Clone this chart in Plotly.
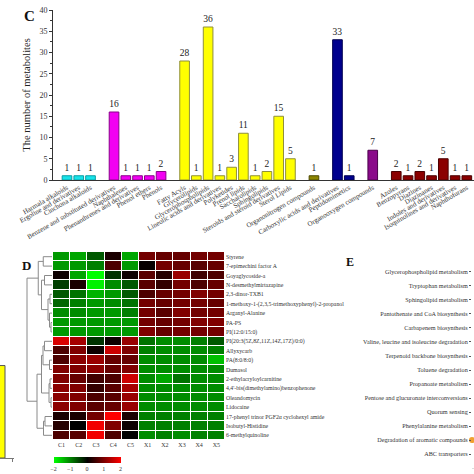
import plotly.graph_objects as go

W = H = 474
FONT = "Liberation Serif"

# ---------------- Panel C data ----------------
cyan_labels = ["Harmala alkaloids", "Ergoline and derivatives", "Cinchona alkaloids"]
cyan_values = [1, 1, 1]
magenta_labels = ["Benzene and substituted derivatives", "Naphthalenes",
                  "Phenanthrenes and derivatives", "Phenol ethers", "Phenols"]
magenta_values = [16, 1, 1, 1, 2]
yellow_labels = ["Fatty Acyls", "Glycerolipids", "Glycerophospholipids",
                 "Lineolic acids and derivatives", "Polyketides", "Prenol lipids",
                 "Saccharolipids", "Sphingolipids", "Steroids and steroid derivatives",
                 "Sterol Lipids"]
yellow_values = [28, 1, 36, 1, 3, 11, 1, 2, 15, 5]
olive_labels = ["Organonitrogen compounds"]
olive_values = [1]
navy_labels = ["Carboxylic acids and derivatives", "Peptidomimetics"]
navy_values = [33, 1]
purple_labels = ["Organooxygen compounds"]
purple_values = [7]
darkred_labels = ["Azoles", "Benzopyrans", "Diazines", "Diazinanes",
                  "Indoles and derivatives", "Isoquinolines and derivatives",
                  "Naphthofurans"]
darkred_values = [2, 1, 2, 1, 5, 1, 1]

groups = [
    (cyan_labels, cyan_values, "#16e3ea", "#0a9ea3"),
    (magenta_labels, magenta_values, "#f200f2", "#8a008a"),
    (yellow_labels, yellow_values, "#ffff00", "#8f8f3a"),
    (olive_labels, olive_values, "#8c8500", "#4d4a00"),
    (navy_labels, navy_values, "#00008e", "#000050"),
    (purple_labels, purple_values, "#8a0a8a", "#4a004a"),
    (darkred_labels, darkred_values, "#8b0000", "#4a0000"),
]

# ---------------- Panel D data ----------------
heat_rows = ["Styrene", "7-epimechini factor A", "Goyaglycoside-a", "N-desmethylmirtazapine",
             "2,3-dinor-TXB1", "1-methoxy-1-(2,3,5-trimethoxyphenyl)-2-propanol",
             "Arganyl-Alanine", "PA-PS", "PI(12:0/15:0)",
             "PI(20:3(5Z,8Z,11Z,14Z,17Z)/0:0)", "Allyxycarb", "PA(8:0/8:0)", "Dumasol",
             "2-ethylacryloylcarnitine", "4,4'-bis(dimethylamino)benzophenone",
             "Oleandomycin", "Lidocaine", "17-phenyl trinor PGF2α cyclohexyl amide",
             "Isobutyl-Histidine", "6-methylquinoline"]
heat_cols = ["C1", "C2", "C3", "C4", "C5", "X1", "X2", "X3", "X4", "X5"]
heat_values = [
    [-1.2, -1.3, -0.7, 0.2, -1.3, 0.9, 0.8, 0.8, 0.9, 0.9],
    [-1.2, -1.2, -1.0, 0.6, -1.2, 0.05, 0.9, 0.8, 0.7, 0.8],
    [0.1, -1.3, -2.0, -0.4, 0.1, 0.7, 0.3, 1.2, 0.5, 0.6],
    [-0.5, 0.2, -1.9, -1.1, -0.7, 0.7, 0.4, 0.9, 0.6, 0.8],
    [-0.7, -0.9, -1.4, -1.2, -0.7, 0.6, 0.8, 0.9, 1.0, 0.9],
    [-0.8, -1.0, -1.2, -1.1, -0.9, 0.9, 0.8, 0.9, 0.9, 0.8],
    [-1.1, -1.1, -1.2, -1.2, -1.0, 0.9, 0.7, 1.0, 0.9, 0.9],
    [-1.2, -1.2, -1.2, -1.2, -1.2, 0.9, 0.8, 0.9, 1.0, 1.0],
    [-1.2, -1.2, -1.2, -1.2, -1.2, 1.0, 0.8, 0.9, 0.9, 0.9],
    [1.7, 1.3, -0.4, 0.1, 1.2, -0.9, -1.1, -1.1, -1.0, -0.7],
    [0.6, 1.0, 0.1, 1.6, 1.0, -1.0, -1.1, -1.1, -1.1, -1.0],
    [0.6, 1.1, 1.2, 0.8, 0.8, -1.1, -1.1, -1.1, -1.1, -1.5],
    [1.0, 1.0, 1.1, 0.8, 1.0, -1.1, -1.1, -1.1, -1.1, -1.1],
    [1.0, 0.8, 0.5, 0.6, 1.6, -1.1, -1.3, -0.9, -1.1, -1.1],
    [1.1, 1.0, 0.4, 0.7, 1.3, -1.1, -1.1, -1.1, -1.1, -1.1],
    [1.1, 1.0, 0.6, 0.7, 1.2, -1.1, -1.1, -1.1, -1.1, -1.1],
    [1.1, 1.0, 0.7, 0.8, 1.2, -1.1, -1.1, -1.1, -1.1, -1.1],
    [0.2, 0.2, 0.9, 2.0, 0.2, -1.0, -1.0, -1.0, -1.0, -1.0],
    [0.3, 0.0, 1.9, 1.0, 0.1, -1.0, -1.0, -1.0, -1.0, -1.0],
    [0.6, 0.7, 1.9, 0.6, 0.0, -1.1, -1.0, -1.1, -1.0, -1.0],
]
# row dendrogram: (child_a, child_b, height); leaves 0..19, clusters 20+
dendro_merges = [
    (0, 1, 0.35),      # 20
    (2, 3, 0.30),      # 21
    (4, 5, 0.08),      # 22
    (7, 8, 0.04),      # 23
    (6, 23, 0.10),     # 24
    (22, 24, 0.16),    # 25
    (21, 25, 0.42),    # 26
    (20, 26, 0.55),    # 27 top cluster
    (9, 10, 0.30),     # 28
    (11, 12, 0.10),    # 29
    (28, 29, 0.36),    # 30
    (15, 16, 0.04),    # 31
    (13, 14, 0.08),    # 32
    (32, 31, 0.12),    # 33
    (30, 33, 0.42),    # 34
    (17, 18, 0.28),    # 35
    (35, 19, 0.34),    # 36
    (34, 36, 0.60),    # 37 bottom cluster
    (27, 37, 1.00),    # 38 root
]

# ---------------- Panel E data ----------------
pathways = ["Glycerophospholipid metabolism", "Tryptophan metabolism",
            "Sphingolipid metabolism", "Pantothenate and CoA biosynthesis",
            "Carbapenem biosynthesis", "Valine, leucine and isoleucine degradation",
            "Terpenoid backbone biosynthesis", "Toluene degradation",
            "Propanoate metabolism", "Pentose and glucuronate interconversions",
            "Quorum sensing", "Phenylalanine metabolism",
            "Degradation of aromatic compounds", "ABC transporters"]
pathway_points = ["Degradation of aromatic compounds"]
pathway_point_x = [0.0]

# neighbour panel fragment (left edge)
fragment_values = [1.0]


def dx(p):
    return p / W


def dy(p):
    return 1 - p / H


fig = go.Figure()

# ---------- Panel C bars ----------
tickvals, ticktext = [], []
pos = 0
for labels, vals, fill, line in groups:
    xs = list(range(pos, pos + len(vals)))
    pos += len(vals) + 1
    tickvals += xs
    ticktext += labels
    fig.add_trace(go.Bar(
        x=xs, y=vals, width=0.82, marker=dict(color=fill, line=dict(color=line, width=1)),
        text=[str(v) for v in vals], textposition="outside", constraintext="none",
        textfont=dict(family=FONT, size=9.5, color="#222"), cliponaxis=False,
        xaxis="x", yaxis="y", showlegend=False))

# ---------- Panel D heatmap ----------
fig.add_trace(go.Heatmap(
    z=heat_values, x=heat_cols, y=heat_rows, xaxis="x2", yaxis="y2",
    colorscale=[[0, "#00ff00"], [0.5, "#000000"], [1, "#ff0000"]],
    zmin=-2, zmax=2, xgap=1, ygap=1,
    colorbar=dict(orientation="h", x=dx(87), xanchor="center", y=dy(457), yanchor="top",
                  len=dx(67), lenmode="fraction", thickness=6, thicknessmode="pixels",
                  tickvals=[-2, -1, 0, 1, 2], tickfont=dict(family=FONT, size=6, color="#333"),
                  outlinewidth=0, xpad=0, ypad=0, ticks=""),
))

# dendrogram lines computed from merges
n_leaf = len(heat_rows)
node_pos = {i: float(i) for i in range(n_leaf)}
node_h = {i: 0.0 for i in range(n_leaf)}
dx_list, dy_list = [], []
for k, (a, b, h) in enumerate(dendro_merges):
    nid = n_leaf + k
    dx_list += [node_h[a], h, h, node_h[b], None]
    dy_list += [node_pos[a], node_pos[a], node_pos[b], node_pos[b], None]
    node_pos[nid] = (node_pos[a] + node_pos[b]) / 2
    node_h[nid] = h
fig.add_trace(go.Scatter(x=dx_list, y=dy_list, mode="lines", xaxis="x3", yaxis="y3",
                         line=dict(color="#8a8a8a", width=1), showlegend=False,
                         hoverinfo="skip"))

# ---------- Panel E fragment ----------
fig.add_trace(go.Scatter(x=[0.5] * len(pathways), y=pathways, mode="markers",
                         marker=dict(size=1, color="rgba(0,0,0,0)"),
                         xaxis="x4", yaxis="y4", showlegend=False, hoverinfo="skip"))
fig.add_trace(go.Scatter(x=pathway_point_x, y=pathway_points, mode="markers",
                         marker=dict(size=6, color="#f0a030"), cliponaxis=False,
                         xaxis="x4", yaxis="y4", showlegend=False))

# ---------- left neighbour fragment ----------
fig.add_trace(go.Bar(x=[0], y=fragment_values, width=1.0,
                     marker=dict(color="#ffff00", line=dict(color="#555", width=1)),
                     xaxis="x5", yaxis="y5", showlegend=False))

tick_font = dict(family=FONT, size=6, color="#333")
fig.update_layout(
    template="none",
    font=dict(family=FONT, color="#333"),
    width=W, height=H, margin=dict(l=0, r=0, t=0, b=0, pad=0),
    paper_bgcolor="white", plot_bgcolor="white", showlegend=False,
    xaxis=dict(domain=[dx(53), 1], range=[-1.19, 34.61], tickvals=tickvals, ticktext=ticktext,
               tickangle=-30, tickfont=dict(family=FONT, size=7, color="#333"),
               showline=True, linecolor="#333", linewidth=1, ticks="", showgrid=False,
               zeroline=False, anchor="y", automargin=False),
    yaxis=dict(domain=[dy(180), dy(10)], range=[0, 40], dtick=5, ticks="outside", ticklen=3,
               tickcolor="#333", showline=True, linecolor="#333", linewidth=1, showgrid=False,
               zeroline=False, tickfont=dict(family=FONT, size=8, color="#333"),
               minor=dict(dtick=2.5, ticks="outside", ticklen=2, tickcolor="#333", showgrid=False),
               title=dict(text="The number of metabolites", font=dict(family=FONT, size=10.5, color="#222"),
                          standoff=6), anchor="x", automargin=False),
    xaxis2=dict(domain=[dx(53), dx(225)], anchor="y2", showgrid=False, zeroline=False,
                tickfont=tick_font, ticks="", showline=False, automargin=False),
    yaxis2=dict(domain=[dy(440), dy(252)], anchor="x2", side="right", autorange="reversed",
                showgrid=False, zeroline=False, ticks="", automargin=False,
                tickfont=dict(family=FONT, size=5.8, color="#333")),
    xaxis3=dict(domain=[dx(26), dx(52)], anchor="y3", range=[1.04, 0], visible=False,
                automargin=False),
    yaxis3=dict(domain=[dy(440), dy(252)], anchor="x3", range=[n_leaf - 0.5, -0.5],
                visible=False, automargin=False),
    xaxis4=dict(domain=[dx(472), 1], anchor="y4", range=[0, 1], showticklabels=False,
                showgrid=False, zeroline=False, showline=True, linecolor="#ddd",
                automargin=False, ticks=""),
    yaxis4=dict(domain=[dy(467.5), dy(258.5)], anchor="x4", autorange="reversed", showgrid=False,
                zeroline=False, ticks="outside", ticklen=2, tickcolor="#555", showline=False,
                categoryorder="array", categoryarray=pathways, automargin=False,
                tickfont=dict(family=FONT, size=6.2, color="#333")),
    xaxis5=dict(domain=[0, dx(14)], anchor="y5", range=[0, 1.4], tickvals=[1.2], ticktext=[""],
                ticks="outside", ticklen=3, tickcolor="#777", showline=True, linecolor="#777",
                showgrid=False, zeroline=False, automargin=False),
    yaxis5=dict(domain=[dy(458), dy(360)], anchor="x5", range=[0, 1.06], visible=False,
                automargin=False),
    annotations=[
        dict(text="<b>C</b>", x=dx(22), y=dy(6), xref="paper", yref="paper", showarrow=False,
             font=dict(family=FONT, size=15, color="#111")),
        dict(text="<b>D</b>", x=dx(20), y=dy(265), xref="paper", yref="paper", showarrow=False,
             font=dict(family=FONT, size=13, color="#111")),
        dict(text="<b>E</b>", x=dx(356), y=dy(262), xref="paper", yref="paper", showarrow=False,
             font=dict(family=FONT, size=12, color="#111")),
    ],
)

fig.write_html("out.html", config={"displayModeBar": False},
               post_script="document.body.style.margin='0';document.body.style.overflow='hidden';")
